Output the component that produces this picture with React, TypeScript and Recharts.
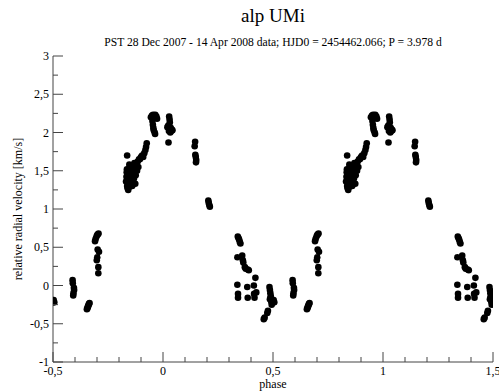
import { ScatterChart, Scatter, XAxis, YAxis } from 'recharts'

// radial velocity measurements folded on phase (-0.5 .. 0.5)
const phases = [
  -0.497, -0.494,
  -0.411, -0.41, -0.405, -0.404, -0.407, -0.408,
  -0.346, -0.344, -0.342, -0.34, -0.338, -0.336, -0.334,
  -0.309, -0.306, -0.302, -0.299, -0.296, -0.293,
  -0.297, -0.291, -0.299, -0.301, -0.294, -0.294,
  -0.168, -0.166, -0.165, -0.164, -0.163, -0.161, -0.159, -0.158, -0.156, -0.155, -0.153, -0.152, -0.15, -0.149,
  -0.147, -0.145, -0.163,
  -0.14, -0.138, -0.136, -0.134, -0.132, -0.13, -0.128, -0.126, -0.124, -0.121, -0.118, -0.115, -0.112, -0.109,
  -0.105, -0.1, -0.095, -0.09, -0.085, -0.08, -0.077, -0.074,
  -0.055, -0.05, -0.045, -0.04, -0.035, -0.03, -0.027, -0.048, -0.046, -0.044, -0.042, -0.038, -0.036,
  0.028, 0.03, 0.031, 0.02, 0.024, 0.035, 0.04, 0.027, 0.033, 0.038, 0.043, 0.025,
  0.146, 0.144, 0.147, 0.149, 0.151, 0.15,
  0.206, 0.208, 0.211, 0.213,
  0.34, 0.343, 0.346, 0.349, 0.352,
  0.338, 0.36, 0.363, 0.365, 0.372, 0.376, 0.385, 0.39, 0.42,
  0.338, 0.383, 0.413,
  0.341, 0.341, 0.385, 0.414, 0.416, 0.424,
  0.458, 0.462, 0.474, 0.477,
  0.484, 0.486, 0.488, 0.49, 0.486, 0.492, 0.494, 0.489,
]
const velocities = [
  -0.19, -0.22,
  0.07, 0.03, -0.03, -0.06, -0.1, -0.13,
  -0.31, -0.3, -0.28, -0.27, -0.25, -0.24, -0.23,
  0.58, 0.61, 0.64, 0.66, 0.67, 0.68,
  0.47, 0.44, 0.37, 0.33, 0.24, 0.16,
  1.36, 1.42, 1.48, 1.52, 1.3, 1.27, 1.33, 1.25, 1.39, 1.45, 1.58, 1.29, 1.35, 1.5,
  1.43, 1.31, 1.7,
  1.3, 1.37, 1.55, 1.47, 1.4, 1.6, 1.52, 1.33, 1.44, 1.57, 1.5, 1.62, 1.55, 1.65,
  1.65, 1.68, 1.7, 1.68, 1.73, 1.77, 1.81, 1.86,
  2.2, 2.22, 2.23, 2.22, 2.23, 2.21, 2.18, 2.15, 2.1, 2.06, 2.03, 2.0, 1.98,
  2.21, 2.17, 2.13, 2.07, 2.09, 2.06, 2.04, 2.02, 2.0, 2.02, 2.03, 1.87,
  1.88, 1.82, 1.71, 1.68, 1.64, 1.61,
  1.11, 1.08, 1.05, 1.03,
  0.64, 0.62, 0.6, 0.57, 0.55,
  0.37, 0.39, 0.33, 0.3, 0.24, 0.22, 0.21, 0.2, 0.1,
  0.01, -0.02, 0.0,
  -0.11, -0.16, -0.16, -0.11, -0.16, -0.09,
  -0.44, -0.42, -0.36, -0.33,
  -0.02, -0.06, -0.1, -0.14, -0.18, -0.21, -0.25, -0.16,
]

const xTicks = [-0.5, -0.4, -0.3, -0.2, -0.1, 0, 0.1, 0.2, 0.3, 0.4, 0.5, 0.6, 0.7, 0.8, 0.9, 1, 1.1, 1.2, 1.3, 1.4, 1.5]
const yTicks = [-1, -0.75, -0.5, -0.25, 0, 0.25, 0.5, 0.75, 1, 1.25, 1.5, 1.75, 2, 2.25, 2.5, 2.75, 3]

const AXIS = '#444'
const FONT = '"Liberation Serif", "Times New Roman", serif'

// plot each measurement at phase and phase + 1
const points = phases.map((p, i) => ({ phase: p, v: velocities[i] }))
const data = [...points, ...points.map((d) => ({ phase: d.phase + 1, v: d.v }))]

const isMajor = (v: number) => Math.abs(v * 2 - Math.round(v * 2)) < 1e-6
const fmt = (v: number) => String(Math.round(v * 10) / 10).replace('.', ',')

const BottomTick = (props: any) => {
  const { x, y, payload } = props
  const major = isMajor(payload.value)
  return (
    <g>
      <line x1={x} y1={y} x2={x} y2={y - (major ? 10 : 5)} stroke={AXIS} />
      {major && (
        <text x={x} y={y + 13} textAnchor="middle" fontSize={12} fontFamily={FONT} fill="#000">
          {fmt(payload.value)}
        </text>
      )}
    </g>
  )
}

const TopTick = (props: any) => {
  const { x, y, payload } = props
  const major = isMajor(payload.value)
  return <line x1={x} y1={y} x2={x} y2={y + (major ? 10 : 5)} stroke={AXIS} />
}

const LeftTick = (props: any) => {
  const { x, y, payload } = props
  const major = isMajor(payload.value)
  return (
    <g>
      <line x1={x} y1={y} x2={x + (major ? 10 : 5)} y2={y} stroke={AXIS} />
      {major && (
        <text x={x - 4} y={y + 4} textAnchor="end" fontSize={12} fontFamily={FONT} fill="#000">
          {fmt(payload.value)}
        </text>
      )}
    </g>
  )
}

const RightTick = (props: any) => {
  const { x, y, payload } = props
  const major = isMajor(payload.value)
  return <line x1={x} y1={y} x2={x - (major ? 10 : 5)} y2={y} stroke={AXIS} />
}

const Dot = (props: any) => <circle cx={props.cx} cy={props.cy} r={3.3} fill="#000" />

export default function App() {
  return (
    <div style={{ position: 'absolute', left: 0, top: 0, width: 499, height: 391, fontFamily: FONT }}>
      <div style={{ position: 'absolute', left: 0, width: 546, top: 5, textAlign: 'center', fontSize: 19 }}>
        alp UMi
      </div>
      <div style={{ position: 'absolute', left: 0, width: 546, top: 36, textAlign: 'center', fontSize: 11.6 }}>
        PST 28 Dec 2007 - 14 Apr 2008 data; HJD0 = 2454462.066; P = 3.978 d
      </div>
      <div
        style={{
          position: 'absolute',
          left: 18,
          top: 209,
          fontSize: 12,
          whiteSpace: 'nowrap',
          transform: 'translate(-50%, -50%) rotate(-90deg)',
        }}
      >
        relative radial velocity [km/s]
      </div>
      <div style={{ position: 'absolute', left: 53, width: 440, top: 377, textAlign: 'center', fontSize: 12 }}>
        phase
      </div>
      <ScatterChart width={499} height={391} margin={{ top: 56, right: 6, bottom: 0, left: 0 }}>
        <XAxis
          xAxisId="bottom"
          dataKey="phase"
          type="number"
          domain={[-0.5, 1.5]}
          ticks={xTicks}
          allowDataOverflow
          height={29}
          tickSize={0}
          tickMargin={0}
          tickLine={false}
          axisLine={{ stroke: AXIS }}
          tick={BottomTick}
          interval={0}
        />
        <XAxis
          xAxisId="top"
          orientation="top"
          type="number"
          domain={[-0.5, 1.5]}
          ticks={xTicks}
          allowDataOverflow
          height={0}
          tickSize={0}
          tickMargin={0}
          tickLine={false}
          axisLine={{ stroke: AXIS }}
          tick={TopTick}
          interval={0}
        />
        <YAxis
          yAxisId="left"
          dataKey="v"
          type="number"
          domain={[-1, 3]}
          ticks={yTicks}
          allowDataOverflow
          width={53}
          tickSize={0}
          tickMargin={0}
          tickLine={false}
          axisLine={{ stroke: AXIS }}
          tick={LeftTick}
          interval={0}
        />
        <YAxis
          yAxisId="right"
          orientation="right"
          type="number"
          domain={[-1, 3]}
          ticks={yTicks}
          allowDataOverflow
          width={0}
          tickSize={0}
          tickMargin={0}
          tickLine={false}
          axisLine={{ stroke: AXIS }}
          tick={RightTick}
          interval={0}
        />
        <Scatter
          data={data}
          xAxisId="bottom"
          yAxisId="left"
          fill="#000"
          shape={Dot}
          isAnimationActive={false}
        />
      </ScatterChart>
    </div>
  )
}
